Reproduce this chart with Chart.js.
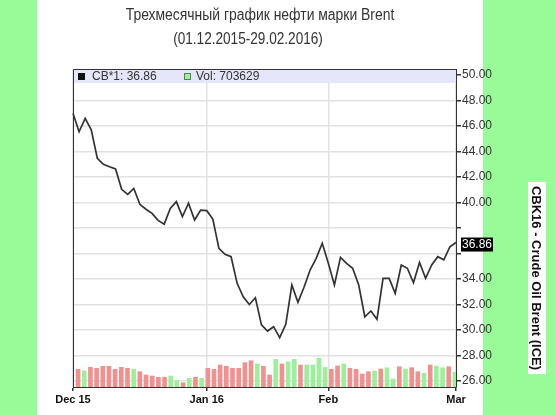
<!DOCTYPE html>
<html lang="ru">
<head>
<meta charset="UTF-8">
<title>Brent</title>
<script src="https://cdn.jsdelivr.net/npm/chart.js"></script>
<style>
  body { margin: 0; background: #98fb98; }
  canvas { display: block; }
</style>
</head>
<body>
<canvas id="brent" width="555" height="415"></canvas>
<script>
// торговые дни 01.12.2015 - 01.03.2016
const dates = [
  '01.12','02.12','03.12','04.12','07.12','08.12','09.12','10.12','11.12','14.12','15.12',
  '16.12','17.12','18.12','21.12','22.12','23.12','24.12','28.12','29.12','30.12','31.12',
  '04.01','05.01','06.01','07.01','08.01','11.01','12.01','13.01','14.01','15.01',
  '18.01','19.01','20.01','21.01','22.01','25.01','26.01','27.01','28.01','29.01',
  '01.02','02.02','03.02','04.02','05.02','08.02','09.02','10.02','11.02','12.02',
  '15.02','16.02','17.02','18.02','19.02','22.02','23.02','24.02','25.02','26.02','29.02',
  '01.03'
];

// цена CB*1
const price = [
  47.00, 45.55, 46.60, 45.70, 43.47, 43.00, 42.80, 42.63, 41.03, 40.64, 41.10,
  39.86, 39.47, 39.15, 38.60, 38.30, 39.54, 40.07, 38.90, 39.94, 38.63, 39.40,
  39.36, 38.70, 36.40, 35.94, 35.75, 33.66, 32.60, 32.00, 32.53, 30.40,
  29.92, 30.26, 29.40, 30.45, 33.53, 32.17, 33.35, 34.70, 35.62, 36.80,
  35.23, 33.53, 35.70, 35.23, 34.84, 33.53, 31.04, 31.49, 30.84, 34.05,
  34.05, 32.88, 35.10, 34.84, 33.70, 35.30, 34.05, 35.10, 35.75, 35.50, 36.53,
  36.86
];

// объём торгов
const volume = [
  835000, 769000, 929000, 882000, 976000, 976000, 835000, 929000, 882000, 835000,
  722000, 566000, 519000, 458000, 458000, 519000, 297000, 203000, 410000, 458000,
  410000, 882000, 835000, 1038000, 976000, 882000, 882000, 1146000, 1241000, 1085000,
  976000, 566000, 1307000, 1085000, 1193000, 1307000, 1038000, 1038000, 1038000, 1354000,
  929000, 835000, 991000, 1085000, 882000, 835000, 613000, 722000, 755000, 849000,
  910000, 377000, 958000, 849000, 910000, 722000, 646000, 1038000, 991000, 910000,
  958000, 703629
];
// рост / падение
const volUp = [
  0,1,0,0,0,0,0,0,0,1, 0,0,0,0,0,1,1,0,1,0,
  1,0,0,0,0,0,0,0,0,1, 0,0,1,0,1,1,0,1,1,1,
  1,0,0,1,0,0,0,0,1,0, 1,1,0,1,0,0,1,0,1,1,
  0,1
];

const priceTicks = [26, 28, 30, 32, 34, 36, 38, 40, 42, 44, 46, 48, 50];
const monthStarts = ['01.12', '04.01', '01.02', '01.03'];
const monthTicks = ['Dec 15', 'Jan 16', 'Feb', 'Mar'];

const lastPrice = price[price.length - 1];
const lastVol = volume[volume.length - 1];

function narrowText(ctx, text, x, y, k) {
  ctx.save();
  ctx.translate(x, y);
  ctx.scale(k, 1);
  ctx.fillText(text, 0, 0);
  ctx.restore();
}

const frame = {
  id: 'frame',
  beforeDraw(chart) {
    const ctx = chart.ctx;
    ctx.save();
    ctx.fillStyle = '#98fb98';
    ctx.fillRect(0, 0, chart.width, chart.height);
    ctx.fillStyle = '#ffffff';
    ctx.fillRect(37, 0, 446, chart.height);

    ctx.fillStyle = '#333';
    ctx.textAlign = 'center';
    ctx.textBaseline = 'middle';
    ctx.font = '16px "Liberation Sans", Arial, sans-serif';
    narrowText(ctx, 'Трехмесячный график нефти марки Brent', 260, 16, 0.87);
    narrowText(ctx, '(01.12.2015-29.02.2016)', 248, 40, 0.85);
    ctx.restore();
  },
  beforeDatasetsDraw(chart) {
    const ctx = chart.ctx;
    const a = chart.chartArea;
    ctx.save();
    ctx.fillStyle = '#e6e6fa';
    ctx.fillRect(a.left, a.top, a.right - a.left, 14);

    ctx.font = '12px "Liberation Sans", Arial, sans-serif';
    ctx.textBaseline = 'middle';
    ctx.textAlign = 'left';
    ctx.fillStyle = '#111';
    ctx.fillRect(78, 73, 7, 7);
    ctx.fillStyle = '#333';
    ctx.fillText('CB*1: ' + lastPrice.toFixed(2), 92, 77);
    ctx.fillStyle = '#a0f0a0';
    ctx.fillRect(184, 73, 7, 7);
    ctx.strokeStyle = '#4a8a4a';
    ctx.lineWidth = 1;
    ctx.strokeRect(184.5, 73.5, 6, 6);
    ctx.fillStyle = '#333';
    ctx.fillText('Vol: ' + lastVol, 196, 77);
    ctx.restore();
  },
  afterDraw(chart) {
    const ctx = chart.ctx;
    const a = chart.chartArea;
    ctx.save();
    ctx.strokeStyle = '#333';
    ctx.lineWidth = 1;
    ctx.beginPath();
    ctx.moveTo(a.left + 0.5, a.bottom);
    ctx.lineTo(a.left + 0.5, a.top + 0.5);
    ctx.lineTo(a.right, a.top + 0.5);
    ctx.stroke();

    // метка последней цены
    const y = chart.scales.y.getPixelForValue(lastPrice) + 2;
    ctx.fillStyle = '#000';
    ctx.fillRect(461, y - 7, 32, 14);
    ctx.fillStyle = '#fff';
    ctx.font = '12px "Liberation Sans", Arial, sans-serif';
    ctx.textAlign = 'left';
    ctx.textBaseline = 'middle';
    ctx.fillText(lastPrice.toFixed(2), 462, y);

    // вертикальная подпись
    ctx.translate(537, 278);
    ctx.rotate(Math.PI / 2);
    ctx.font = 'bold 13px "Liberation Sans", Arial, sans-serif';
    const label = 'CBK16 - Crude Oil Brent (ICE)';
    const w = ctx.measureText(label).width;
    ctx.fillStyle = '#fff';
    ctx.fillRect(-w / 2 - 4, -9, w + 8, 18);
    ctx.fillStyle = '#111';
    ctx.textAlign = 'center';
    ctx.fillText(label, 0, 1);
    ctx.restore();
  }
};

new Chart(document.getElementById('brent'), {
  data: {
    labels: dates,
    datasets: [{
      type: 'line',
      data: price,
      borderColor: '#333',
      borderWidth: 1.7,
      pointRadius: 0,
      tension: 0,
      xAxisID: 'x',
      yAxisID: 'y',
      order: 1
    }, {
      type: 'bar',
      data: volume,
      backgroundColor: volUp.map(u => u ? '#9cf09c' : '#f29090'),
      barThickness: 4,
      xAxisID: 'xv',
      yAxisID: 'yv',
      order: 2
    }]
  },
  options: {
    responsive: false,
    animation: false,
    devicePixelRatio: 1,
    layout: { padding: { left: 73, top: 69, right: 0, bottom: 0 } },
    plugins: { legend: { display: false }, tooltip: { enabled: false } },
    scales: {
      x: {
        type: 'category',
        offset: false,
        afterBuildTicks(scale) {
          scale.ticks = monthStarts.map(d => ({ value: dates.indexOf(d) }));
        },
        afterFit(scale) {
          scale.height = 28;
          scale.paddingLeft = 0;
          scale.paddingRight = 0;
        },
        grid: { color: '#e2e2e2', lineWidth: 1.5, tickLength: 4, tickColor: '#333' },
        border: { color: '#333', width: 1 },
        ticks: {
          autoSkip: false,
          maxRotation: 0,
          padding: 2,
          color: '#111',
          font: { family: '"Liberation Sans", Arial, sans-serif', size: 11, weight: 'bold' },
          callback: (v, i) => monthTicks[i]
        }
      },
      xv: {
        type: 'category',
        labels: dates.slice(0, volume.length),
        offset: true,
        display: false
      },
      y: {
        position: 'right',
        min: 25.53,
        max: 50.47,
        afterBuildTicks(scale) {
          scale.ticks = priceTicks.map(v => ({ value: v }));
        },
        afterFit(scale) {
          scale.width = 99;
          scale.paddingTop = 0;
          scale.paddingBottom = 0;
        },
        grid: { color: '#e2e2e2', lineWidth: 1.5, tickLength: 5, tickColor: '#333' },
        border: { color: '#333', width: 1 },
        ticks: {
          padding: 1,
          color: '#333',
          font: { family: '"Liberation Sans", Arial, sans-serif', size: 12 },
          callback: v => Math.abs(v - lastPrice) < 1.2 ? '' : v.toFixed(2)
        }
      },
      yv: {
        min: 0,
        max: 15000000,
        display: false
      }
    }
  },
  plugins: [frame]
});
</script>
</body>
</html>
